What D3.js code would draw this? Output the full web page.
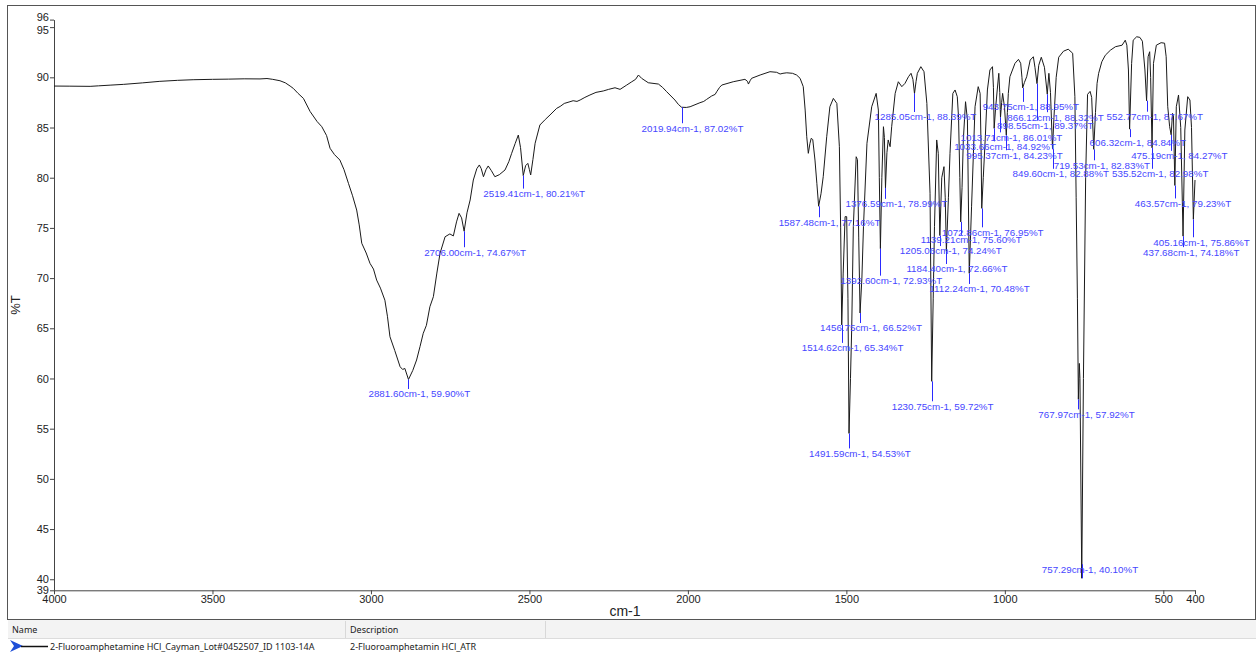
<!DOCTYPE html>
<html>
<head>
<meta charset="utf-8">
<script src="https://cdn.jsdelivr.net/npm/d3@7"></script>
<style>
  body { margin: 0; background: #fff; }
  svg { display: block; }
</style>
</head>
<body>
<div id="chart"></div>
<script>
// spectrum trace: [wavenumber cm-1, %T]
var spectrum = [
  [4000, 89.13], [3950, 89.12], [3886, 89.1], [3860, 89.15], [3823, 89.22], [3780, 89.3],
  [3720, 89.45], [3666, 89.6], [3610, 89.7], [3561, 89.76], [3500, 89.8], [3450, 89.82],
  [3400, 89.85], [3350, 89.84], [3328, 89.88], [3310, 89.8], [3287, 89.66], [3270, 89.45],
  [3255, 89.13], [3245, 88.9], [3230, 88.4], [3213, 87.9], [3192, 86.6], [3170, 85.6],
  [3155, 85.08], [3140, 84.2], [3129, 82.93], [3115, 82.3], [3098, 81.76], [3085, 80.8],
  [3071, 79.44], [3058, 78.2], [3045, 76.78], [3037, 75.3], [3029, 73.47], [3015, 72.5],
  [3003, 71.47], [2992, 70.9], [2982, 69.8], [2970, 69.0], [2956, 67.8], [2948, 66.2],
  [2940, 64.16], [2925, 62.8], [2908, 61.17], [2900, 60.9], [2893, 61.0], [2881.6, 59.9],
  [2868, 60.8], [2856, 61.84], [2845, 63.2], [2835, 64.5], [2825, 65.3], [2814, 67.15],
  [2803, 68.15], [2792, 70.5], [2782, 72.47], [2766, 74.12], [2751, 74.4], [2740, 74.2],
  [2730, 75.6], [2722, 76.45], [2714, 76.0], [2706, 74.67], [2697, 76.5], [2687, 77.78],
  [2677, 79.77], [2666, 80.9], [2658, 81.27], [2652, 80.9], [2645, 80.1], [2637, 80.8],
  [2630, 81.17], [2620, 80.7], [2609, 80.1], [2595, 80.3], [2577, 80.77], [2565, 81.6],
  [2556, 82.43], [2545, 83.4], [2535, 84.25], [2528, 83.0], [2519.41, 80.21], [2512, 81.2],
  [2505, 81.43], [2500, 80.8], [2496, 80.27], [2489, 81.8], [2482, 83.43], [2467, 85.25],
  [2450, 85.8], [2435, 86.25], [2414, 86.91], [2403, 87.1], [2390, 87.4], [2372, 87.57],
  [2362, 87.67], [2350, 87.6], [2340, 87.74], [2325, 88.0], [2309, 88.24], [2290, 88.5],
  [2267, 88.64], [2250, 88.8], [2230, 88.96], [2214, 88.8], [2193, 89.23], [2177, 89.56],
  [2165, 89.8], [2156, 90.23], [2146, 89.9], [2125, 89.46], [2093, 89.33], [2080, 89.0],
  [2067, 88.57], [2041, 87.74], [2030, 87.3], [2019.94, 87.02], [2005, 87.0], [1993, 87.07],
  [1962, 87.47], [1950, 87.6], [1941, 87.8], [1925, 88.14], [1914, 88.3], [1909, 88.57],
  [1900, 89.0], [1893, 89.23], [1857, 89.56], [1820, 89.8], [1812, 89.6], [1809, 89.33],
  [1803, 89.7], [1799, 89.9], [1772, 90.23], [1741, 90.56], [1720, 90.5], [1709, 90.33],
  [1700, 90.4], [1688, 90.45], [1670, 90.4], [1657, 90.23], [1646, 89.9], [1636, 89.07],
  [1630, 86.74], [1625, 84.08], [1620, 82.43], [1615, 83.4], [1611, 83.92], [1606, 83.8],
  [1599, 81.76], [1593, 79.4], [1587.48, 77.16], [1580, 78.4], [1573, 80.1], [1562, 84.08],
  [1552, 87.07], [1541, 87.9], [1530, 87.4], [1522, 83.09], [1518, 75], [1514.62, 65.34],
  [1510, 70.5], [1504, 76.12], [1499, 76.12], [1495, 68], [1491.59, 54.53], [1487, 60],
  [1483, 65.16], [1478, 75.12], [1469, 82.09], [1465, 81.8], [1461, 74], [1456.75, 66.52],
  [1451, 70], [1446, 75.12], [1435, 83.43], [1420, 87.07], [1406, 88.4], [1399, 86.74],
  [1396, 80], [1392.6, 72.93], [1388, 80], [1383, 85.08], [1380, 84], [1376.59, 78.99],
  [1372, 82.5], [1368, 83.76], [1362, 83.09], [1357, 85.08], [1346, 88.4], [1336, 89.56],
  [1325, 89.07], [1315, 89.4], [1304, 90.06], [1296, 90.4], [1290, 89.8], [1285.05, 88.39],
  [1280, 89.6], [1276, 90.4], [1265, 91.06], [1255, 90.56], [1246, 87.4], [1236, 78.45],
  [1230.75, 59.72], [1226, 68], [1222, 75.12], [1215, 83.76], [1210, 82.43], [1205.06, 74.24],
  [1199, 80], [1192, 81.1], [1188, 78], [1184.4, 72.66], [1178, 78], [1173, 82.43],
  [1164, 88.4], [1157, 88.74], [1150, 88.07], [1146, 86], [1142, 80], [1139.21, 75.6],
  [1135, 79], [1131, 83.76], [1124, 87.57], [1118, 85.75], [1112.24, 70.48], [1105, 77.1],
  [1094, 87.07], [1084, 89.07], [1078, 88.4], [1075, 83], [1072.86, 76.95], [1068, 80],
  [1062, 83.76], [1055, 88.74], [1047, 90.73], [1039, 91.06], [1036, 89], [1033.66, 84.92],
  [1029, 87], [1024, 88.74], [1019, 90.4], [1016, 88.5], [1013.71, 86.01], [1010, 87.5],
  [1007, 88.4], [1001, 87], [995.37, 84.23], [992, 86.5], [989, 88.4], [984, 90.06],
  [968, 91.39], [957, 91.79], [950, 91.4], [946, 90], [943.75, 88.95], [938, 89.5],
  [931, 90.06], [920, 91.72], [910, 92.05], [905, 91], [898.55, 89.37], [893, 91.2],
  [885, 92.0], [875, 91.0], [866.12, 88.32], [861, 90.4], [856, 88.5], [849.6, 82.88],
  [845, 86], [838, 90], [830, 92], [815, 92.6], [800, 92.8], [786, 92.4], [779, 88.07],
  [775, 78], [771, 68], [767.97, 57.92], [765, 61.5], [763, 60], [757.29, 40.1],
  [752, 60], [745, 80], [739, 88.3], [731, 88.6], [726, 88.0], [719.53, 82.83],
  [714, 86.5], [709, 89.4], [704, 90.4], [694, 91.55], [683, 92.2], [667, 92.7],
  [651, 93.05], [630, 93.2], [620, 93.7], [615, 93.2], [610, 90.73], [606.32, 84.84],
  [600, 91.39], [595, 93.7], [584, 94.04], [574, 93.98], [566, 93.6], [558, 90.73],
  [552.77, 87.67], [548, 92.05], [543, 92.55], [540, 90], [535.52, 82.98], [531, 91.39],
  [522, 93.2], [507, 93.45], [496, 93.4], [491, 92.05], [486, 87.07], [480, 85.08],
  [475.19, 84.27], [471, 86.41], [468, 86.2], [463.57, 79.23], [459, 87.07], [452, 88.24],
  [445, 85], [437.68, 74.18], [432, 84.75], [423, 88.07], [416, 87.74], [411, 85],
  [405.16, 75.86], [400, 79.77]
];

// picked peaks
var peakWn = [2881.60, 2706.00, 2519.41, 2019.94, 1587.48, 1376.59, 1285.05, 1392.60,
  1456.75, 1514.62, 1491.59, 1230.75, 1072.86, 1139.21, 1205.06, 1184.40, 1112.24,
  995.37, 1033.66, 1013.71, 943.75, 866.12, 898.55, 849.60, 719.53, 767.97, 757.29,
  552.77, 606.32, 475.19, 535.52, 463.57, 405.16, 437.68];
var peakT = [59.90, 74.67, 80.21, 87.02, 77.16, 78.99, 88.39, 72.93,
  66.52, 65.34, 54.53, 59.72, 76.95, 75.60, 74.24, 72.66, 70.48,
  84.23, 84.92, 86.01, 88.95, 88.32, 89.37, 82.88, 82.83, 57.92, 40.10,
  87.67, 84.84, 84.27, 82.98, 79.23, 75.86, 74.18];
// how far below its peak each label sits (px), layout only
var labelDrop = [14.5, 21, 18, 21, 16, 16, 23.5, 32,
  15, 23, 20, 25, 24, 18, 15.5, 17.6, 15.7,
  20, 18, 20, 19, 23, 42, 25, 16, 15, -9,
  16, 13, 21, 26, 18, 23, 16];

var xTicks = [4000, 3500, 3000, 2500, 2000, 1500, 1000, 500, 400];
var yTicks = [38.9, 40, 45, 50, 55, 60, 65, 70, 75, 80, 85, 90, 95, 95.75];

var seriesName = "2-Fluoroamphetamine HCl_Cayman_Lot#0452507_ID 1103-14A";
var seriesDesc = "2-Fluoroamphetamin HCl_ATR";

var width = 1258, height = 653;
var svg = d3.select("#chart").append("svg")
  .attr("width", width).attr("height", height);

var x = d3.scaleLinear().domain([4000, 400]).range([54, 1195]);
var y = d3.scaleLinear().domain([38.9, 95.75]).range([590.3, 19.6]);

// outer frame
svg.append("rect").attr("x", 7.5).attr("y", 5.5).attr("width", 1248).attr("height", 614)
  .attr("fill", "none").attr("stroke", "#555");

var axisFont = "'Liberation Sans', Arial, sans-serif";

var xAxis = svg.append("g").attr("transform", "translate(0," + y(38.9) + ")")
  .call(d3.axisBottom(x).tickValues(xTicks).tickSize(4).tickSizeOuter(0).tickFormat(d3.format("d")));
var yAxis = svg.append("g").attr("transform", "translate(" + x(4000) + ",0)")
  .call(d3.axisLeft(y).tickValues(yTicks).tickSize(4).tickSizeOuter(0)
    .tickFormat(function(d) { return d < 39.5 ? "39" : (d > 95.5 ? "96" : d); }));

[xAxis, yAxis].forEach(function(g) {
  g.select(".domain").attr("stroke", "#444");
  g.selectAll(".tick line").attr("stroke", "#444");
  g.selectAll(".tick text").attr("fill", "#222").attr("font-family", axisFont).attr("font-size", 11);
});
xAxis.selectAll(".tick text").attr("dy", "0.5em");
yAxis.selectAll(".tick text").attr("x", -5);
// squeeze the crowded end labels apart a little, as the instrument software does
yAxis.selectAll(".tick text").filter(function(d) { return d > 95.5; }).attr("dy", "0.1em");
yAxis.selectAll(".tick text").filter(function(d) { return d === 95; }).attr("dy", "0.62em");

svg.append("text").attr("x", 625).attr("y", 616).attr("text-anchor", "middle")
  .attr("font-family", axisFont).attr("font-size", 14).attr("fill", "#222").text("cm-1");
svg.append("text").attr("transform", "translate(20,305) rotate(-90)").attr("text-anchor", "middle")
  .attr("font-family", axisFont).attr("font-size", 13).attr("fill", "#222").text("%T");

// spectrum line
var line = d3.line().x(function(d) { return x(d[0]); }).y(function(d) { return y(d[1]); });
svg.append("path").datum(spectrum).attr("d", line)
  .attr("fill", "none").attr("stroke", "#1a1a1a").attr("stroke-width", 1);

// peak labels
var peaks = peakWn.map(function(w, i) { return { wn: w, t: peakT[i], drop: labelDrop[i] }; });
var pg = svg.append("g");
pg.selectAll("line").data(peaks).enter().append("line")
  .attr("x1", function(d) { return Math.round(x(d.wn)) + 0.5; })
  .attr("x2", function(d) { return Math.round(x(d.wn)) + 0.5; })
  .attr("y1", function(d) { return y(d.t); })
  .attr("y2", function(d) { return y(d.t) + d.drop - 5; })
  .attr("stroke", "#2a2aff").attr("stroke-width", 1);
pg.selectAll("text").data(peaks).enter().append("text")
  .attr("x", function(d) { return x(d.wn) - 40; })
  .attr("y", function(d) { return y(d.t) + d.drop; })
  .attr("dy", "0.35em")
  .attr("font-family", axisFont).attr("font-size", 9.8).attr("fill", "#4646ff")
  .text(function(d) { return d3.format(".2f")(d.wn) + "cm-1, " + d3.format(".2f")(d.t) + "%T"; });

// legend table
var tbl = svg.append("g").attr("font-family", "'Noto Sans', 'Liberation Sans', sans-serif")
  .attr("font-size", 9).attr("fill", "#222");
tbl.append("rect").attr("x", 8).attr("y", 620).attr("width", 1248).attr("height", 18).attr("fill", "#f3f3f3");
tbl.append("line").attr("x1", 8).attr("x2", 1256).attr("y1", 638.5).attr("y2", 638.5).attr("stroke", "#dcdcdc");
[345.5, 545.5].forEach(function(cx) {
  tbl.append("line").attr("x1", cx).attr("x2", cx).attr("y1", 621).attr("y2", 638).attr("stroke", "#d8d8d8");
});
tbl.append("text").attr("x", 12).attr("y", 633).text("Name");
tbl.append("text").attr("x", 350).attr("y", 633).text("Description");
tbl.append("path").attr("d", "M10,640 L23,646 L10,652 L14,646 Z").attr("fill", "#1f4fd8");
tbl.append("line").attr("x1", 21).attr("x2", 48).attr("y1", 646.5).attr("y2", 646.5).attr("stroke", "#111").attr("stroke-width", 1.5);
tbl.append("text").attr("x", 50).attr("y", 650).text(seriesName);
tbl.append("text").attr("x", 350).attr("y", 650).text(seriesDesc);
</script>
</body>
</html>
